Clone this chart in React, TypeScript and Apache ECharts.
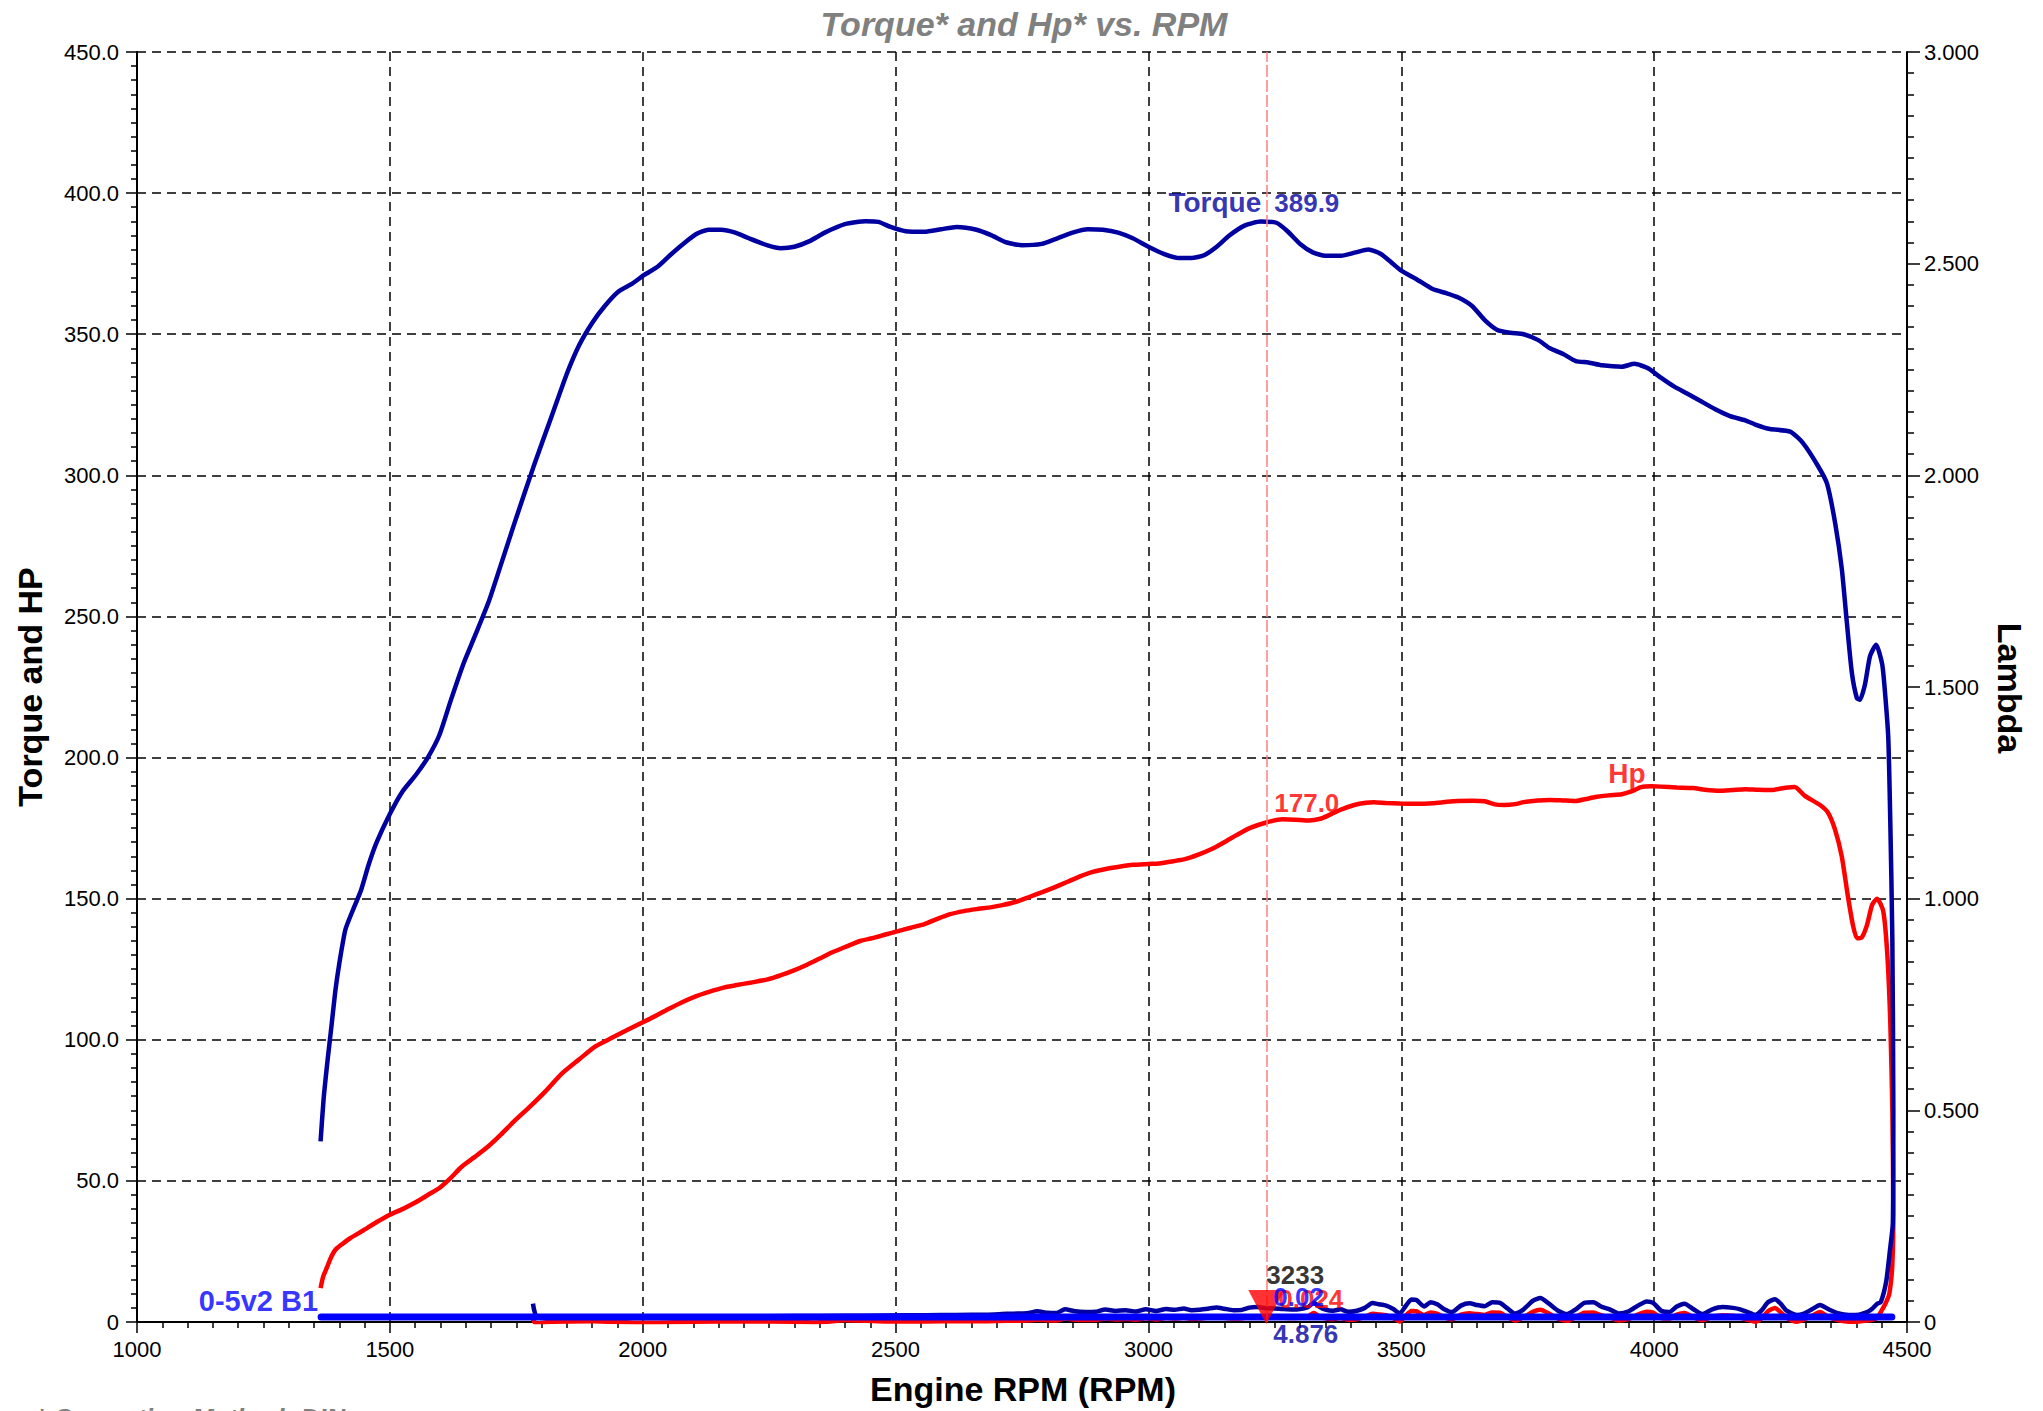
import React, { useEffect, useRef } from 'react';
import * as echarts from 'echarts';

// ---------- DATA ----------
const TITLE = 'Torque* and Hp* vs. RPM';
const FOOTNOTE = '* Correction Method: DIN';
const X_NAME = 'Engine RPM (RPM)';
const Y_LEFT_NAME = 'Torque and HP';
const Y_RIGHT_NAME = 'Lambda';
const LAMBDA_NAME = '0-5v2 B1';

// torque (pull) [rpm, value]
const torqueRun: number[][] = [
  [1363, 64], [1369, 79], [1377, 93], [1384, 104], [1392, 117], [1400, 127], [1412, 139], [1427, 146],
  [1443, 153], [1458, 162], [1474, 170], [1500, 180], [1525, 188], [1552, 194], [1575, 200], [1598, 208],
  [1620, 220], [1645, 233], [1668, 243], [1695, 255], [1719, 268], [1750, 285], [1784, 303], [1822, 322],
  [1850, 336], [1874, 346], [1900, 354], [1925, 360], [1951, 365], [1980, 368], [2003, 371], [2030, 374],
  [2054, 378], [2080, 382], [2106, 385.5], [2130, 387], [2155, 387], [2183, 386], [2210, 384], [2247, 381.5],
  [2273, 380.5], [2300, 381], [2330, 383], [2360, 386], [2400, 389], [2441, 390], [2466, 389.8], [2490, 388],
  [2520, 386.5], [2557, 386.3], [2590, 387.2], [2621, 388], [2660, 387], [2690, 385], [2720, 382.5], [2750, 381.5],
  [2789, 382], [2820, 384], [2850, 386], [2880, 387.2], [2910, 387], [2940, 386], [2969, 384], [3000, 381],
  [3030, 378.5], [3060, 377], [3085, 377], [3110, 378], [3135, 381], [3160, 385], [3190, 388.5], [3222, 389.9],
  [3253, 389.5], [3275, 386.5], [3300, 382], [3325, 379], [3350, 377.8], [3381, 377.8], [3410, 379], [3435, 380],
  [3459, 378.5], [3480, 375.5], [3500, 372.5], [3530, 369.5], [3562, 366], [3590, 364.5], [3613, 363], [3640, 360],
  [3665, 355], [3690, 351.5], [3716, 350.5], [3742, 350], [3770, 348], [3794, 345], [3820, 343], [3845, 340.5],
  [3870, 340], [3897, 339], [3936, 338.5], [3961, 339.5], [3987, 338], [4014, 334.5], [4039, 331.5], [4065, 329],
  [4090, 326.5], [4120, 323.5], [4150, 321], [4180, 319.5], [4200, 318], [4229, 316.4], [4269, 315.5], [4294, 311.5],
  [4324, 303.3], [4342, 297], [4358, 283], [4371, 267], [4381, 248], [4391, 230], [4401, 221], [4407, 220.5],
  [4417, 226], [4427, 236], [4439, 240], [4451, 233], [4457, 222], [4463, 207], [4467, 177], [4471, 136], [4473, 75]
];
// torque (coast down) [rpm, value]
const torqueDecel: number[][] = [
  [4472, 35], [4466, 25], [4459, 14.5], [4448, 7], [4441, 6.5], [4430, 4.5], [4421, 3.5], [4405, 2.6], [4385, 2.5],
  [4365, 3], [4345, 4.5], [4328, 6], [4312, 4.5], [4296, 3], [4282, 2.5], [4262, 4], [4250, 6.5], [4239, 8.1],
  [4225, 7], [4212, 4], [4200, 2.5], [4185, 3.5], [4170, 4.5], [4156, 5], [4135, 5.3], [4115, 4.5], [4095, 2.8],
  [4078, 4.5], [4060, 6.5], [4045, 5.5], [4030, 3.5], [4014, 4], [3998, 6.8], [3985, 7.3], [3968, 5.8], [3950, 3.8],
  [3930, 3], [3912, 4.5], [3895, 5.5], [3880, 7], [3862, 6.8], [3845, 4.5], [3828, 2.8], [3810, 4], [3792, 6.5],
  [3775, 8.5], [3760, 7.5], [3742, 4.5], [3725, 3], [3710, 4.8], [3695, 6.8], [3680, 7], [3665, 5.6], [3650, 6],
  [3635, 6.6], [3618, 5.8], [3600, 3.5], [3585, 4.5], [3572, 6.2], [3558, 7], [3545, 5.5], [3530, 7.8], [3520, 8],
  [3508, 5.5], [3497, 3], [3485, 4.5], [3470, 5.8], [3455, 6.3], [3443, 6.7], [3428, 5], [3412, 4], [3395, 3.6],
  [3380, 4.5], [3365, 4], [3350, 4.4], [3338, 5.4], [3327, 6.8], [3315, 5.2], [3300, 4.6], [3285, 4.4], [3265, 4.6],
  [3250, 4.8], [3233, 4.9], [3215, 5.3], [3200, 5.1], [3185, 4.3], [3168, 4.2], [3150, 4.7], [3135, 5.1], [3120, 4.8],
  [3100, 4.3], [3085, 4.2], [3070, 4.8], [3052, 4.3], [3035, 4.6], [3015, 3.9], [2995, 4.5], [2975, 3.7], [2955, 4.2],
  [2935, 3.9], [2915, 4.4], [2895, 3.6], [2875, 3.5], [2855, 3.8], [2835, 4.5], [2818, 3.2], [2800, 3.3], [2780, 3.8],
  [2760, 3.1], [2720, 2.9], [2680, 2.6], [2620, 2.5], [2560, 2.4], [2480, 2.3], [2400, 2.2], [2300, 2.1], [2200, 2.0],
  [2100, 1.9], [2000, 1.9], [1900, 1.8], [1820, 1.8], [1790, 2.0], [1785, 4.5], [1783, 6.5]
];
// hp (pull)
const hpRun: number[][] = [
  [1363, 12], [1368, 16], [1376, 19.5], [1384, 23], [1392, 25.5], [1405, 27.5], [1420, 29.5], [1448, 32.5],
  [1475, 35.5], [1500, 38], [1525, 40], [1552, 42.5], [1575, 45], [1598, 47.5], [1620, 51], [1642, 55],
  [1668, 58.5], [1693, 62], [1720, 66.5], [1745, 71], [1778, 76.5], [1809, 82], [1840, 88], [1874, 93],
  [1905, 97.5], [1938, 100.6], [1975, 104], [2015, 107.5], [2050, 110.8], [2080, 113.5], [2106, 115.5], [2131, 117],
  [2160, 118.5], [2183, 119.3], [2215, 120.3], [2247, 121.4], [2275, 123], [2299, 124.6], [2325, 126.6], [2350, 128.8],
  [2375, 131], [2402, 133], [2430, 135], [2454, 136], [2480, 137.3], [2505, 138.5], [2530, 139.7], [2557, 141],
  [2585, 143], [2608, 144.5], [2635, 145.6], [2660, 146.3], [2690, 147], [2711, 147.7], [2740, 149], [2763, 150.5],
  [2790, 152.3], [2814, 154], [2840, 156], [2866, 158], [2890, 159.5], [2918, 160.6], [2945, 161.4], [2969, 162],
  [3000, 162.3], [3021, 162.5], [3050, 163.3], [3072, 164], [3100, 165.7], [3124, 167.5], [3150, 170], [3175, 172.6],
  [3200, 175], [3233, 177.0], [3265, 178.1], [3290, 178], [3317, 177.7], [3340, 178.3], [3356, 179.5], [3380, 181.5],
  [3407, 183.2], [3430, 184], [3446, 184.2], [3470, 183.9], [3497, 183.7], [3530, 183.6], [3562, 183.8], [3590, 184.3],
  [3613, 184.6], [3640, 184.7], [3665, 184.5], [3685, 183.4], [3704, 183.2], [3725, 183.5], [3742, 184.2], [3770, 184.8],
  [3794, 185], [3820, 184.8], [3845, 184.6], [3865, 185.3], [3884, 186], [3910, 186.6], [3936, 187], [3955, 188],
  [3974, 189.5], [3995, 189.8], [4013, 189.7], [4045, 189.4], [4077, 189.2], [4100, 188.6], [4129, 188.2], [4155, 188.5],
  [4180, 188.8], [4205, 188.6], [4232, 188.5], [4260, 189.3], [4278, 189.6], [4298, 186.4], [4328, 183.2], [4344, 180.4],
  [4358, 174.3], [4371, 165], [4383, 151], [4393, 140.7], [4401, 136], [4411, 136.4], [4421, 140.7], [4431, 147.8],
  [4441, 150], [4453, 145.6], [4461, 130.4], [4467, 106], [4471, 75.5], [4473, 39]
];
// hp (coast down)
const hpDecel: number[][] = [
  [4471, 20.5], [4465, 10], [4457, 6.4], [4448, 3.5], [4441, 1.4], [4430, 0.8], [4421, 0.5], [4405, 0.2], [4385, 0.1],
  [4365, 0.6], [4345, 1.8], [4328, 3.5], [4312, 2.2], [4296, 0.8], [4282, 0.1], [4262, 1.5], [4250, 3.5], [4239, 5],
  [4225, 3.8], [4212, 1.2], [4200, 0.1], [4185, 0.8], [4170, 1.6], [4156, 2.2], [4135, 2.4], [4115, 1.8], [4095, 0.6],
  [4078, 1.6], [4060, 3.2], [4045, 2.6], [4030, 1.2], [4014, 1.4], [3998, 3.3], [3985, 3.6], [3968, 2.6], [3950, 1.1],
  [3930, 0.5], [3912, 1.6], [3895, 2.4], [3880, 3.4], [3862, 3.3], [3845, 1.8], [3828, 0.4], [3810, 1.2], [3792, 3.0],
  [3775, 4.3], [3760, 3.6], [3742, 1.7], [3725, 0.5], [3710, 1.8], [3695, 3.3], [3680, 3.4], [3665, 2.5], [3650, 2.8],
  [3635, 3.1], [3618, 2.6], [3600, 0.9], [3585, 1.6], [3572, 2.9], [3558, 3.4], [3545, 2.4], [3530, 3.8], [3520, 3.9],
  [3508, 2.1], [3497, 0.2], [3485, 1.3], [3470, 2.4], [3455, 2.7], [3443, 2.9], [3428, 1.8], [3412, 1.0], [3395, 0.8],
  [3380, 1.4], [3365, 1.0], [3350, 1.3], [3338, 2.0], [3327, 3.2], [3315, 2.0], [3300, 1.6], [3285, 1.4], [3265, 1.5],
  [3250, 1.6], [3233, 1.7], [3215, 1.9], [3200, 1.8], [3185, 1.3], [3168, 1.2], [3150, 1.5], [3135, 1.8], [3120, 1.6],
  [3100, 1.2], [3085, 1.1], [3070, 1.5], [3052, 1.2], [3035, 1.4], [3015, 0.9], [2995, 1.3], [2975, 0.8], [2955, 1.1],
  [2935, 0.9], [2915, 1.2], [2895, 0.7], [2875, 0.7], [2855, 0.8], [2835, 1.2], [2818, 0.5], [2800, 0.6], [2780, 0.8],
  [2760, 0.5], [2720, 0.4], [2680, 0.3], [2620, 0.3], [2560, 0.2], [2480, 0.2], [2400, 0.6], [2340, -0.2], [2300, 0.1],
  [2200, 0.2], [2100, 0.1], [2000, -0.3], [1900, 0.3], [1820, 0.1], [1790, -0.5], [1785, 0.2], [1783, 1.0]
];
// lambda channel "0-5v2 B1" (right axis)
const lambdaLine: number[][] = [[1364, 0.012], [4470, 0.012]];

// cursor readout
const cursorRpm = 3233;
const cursorTorque = 389.9;
const cursorHp = 177.0;
const cursorLambdaText = '0.02';
const cursorHpDecelText = '0.024';
const cursorTorqueDecel = 4.876;
const hpPeak = [4005, 189.8];

// axes
const X_MIN = 1000, X_MAX = 4500, X_STEP = 500;
const YL_MIN = 0, YL_MAX = 450, YL_STEP = 50;
const YR_MIN = 0, YR_MAX = 3, YR_STEP = 0.5;

const NAVY = '#0000A0';
const RED = '#FF0000';
const BLUE = '#0000FF';
const FONT = "'Liberation Sans', Arial, Helvetica, sans-serif";

export default function App() {
  const ref = useRef<HTMLDivElement>(null);
  useEffect(() => {
    document.body.style.margin = '0';
    document.body.style.overflow = 'hidden';
    const chart = echarts.init(ref.current!, null, { renderer: 'svg' });
    const tick = { show: true, inside: false, length: 11, lineStyle: { color: '#000', width: 1.5 } };
    const minor = { show: true, splitNumber: 10, length: 6, lineStyle: { color: '#000', width: 1.5 } };
    const dashed = { show: true, lineStyle: { color: '#000', width: 1.5, type: [9, 6] as any } };
    const lbl = (extra: any) => ({
      show: true, fontFamily: FONT, fontWeight: 'bold', fontSize: 26, verticalAlign: 'middle', ...extra
    });
    const option: any = {
      animation: false,
      backgroundColor: '#fff',
      textStyle: { fontFamily: FONT },
      grid: { left: 137, top: 52, width: 1770, height: 1270, containLabel: false, outerBoundsMode: 'none' },
      xAxis: {
        type: 'value', min: X_MIN, max: X_MAX, interval: X_STEP,
        axisLine: { show: true, onZero: false, lineStyle: { color: '#000', width: 2 } },
        axisTick: tick, minorTick: minor, splitLine: dashed, minorSplitLine: { show: false },
        axisLabel: { fontSize: 22, color: '#000', margin: 16, fontFamily: FONT, formatter: (v: number) => String(v) }
      },
      yAxis: [
        {
          type: 'value', position: 'left', min: YL_MIN, max: YL_MAX, interval: YL_STEP,
          axisLine: { show: true, lineStyle: { color: '#000', width: 2 } },
          axisTick: tick, minorTick: minor, splitLine: dashed,
          axisLabel: { fontSize: 22, color: '#000', margin: 18, fontFamily: FONT,
            formatter: (v: number) => (v === 0 ? '0' : v.toFixed(1)) }
        },
        {
          type: 'value', position: 'right', min: YR_MIN, max: YR_MAX, interval: YR_STEP,
          axisLine: { show: true, lineStyle: { color: '#000', width: 2 } },
          axisTick: { ...tick, length: 13 }, minorTick: { ...minor, length: 7 }, splitLine: { show: false },
          axisLabel: { fontSize: 22, color: '#000', margin: 17, fontFamily: FONT,
            formatter: (v: number) => (v === 0 ? '0' : v.toFixed(3)) }
        }
      ],
      graphic: [
        { type: 'text', x: 1024, y: 24, silent: true,
          style: { text: TITLE, fill: '#808080', font: `italic bold 34px ${FONT}`, align: 'center', verticalAlign: 'middle' } },
        { type: 'text', x: 30, y: 687, rotation: Math.PI / 2, silent: true,
          style: { text: Y_LEFT_NAME, fill: '#000', font: `bold 34px ${FONT}`, align: 'center', verticalAlign: 'middle' } },
        { type: 'text', x: 2010, y: 688, rotation: -Math.PI / 2, silent: true,
          style: { text: Y_RIGHT_NAME, fill: '#000', font: `bold 34px ${FONT}`, align: 'center', verticalAlign: 'middle' } },
        { type: 'text', x: 1023, y: 1389, silent: true,
          style: { text: X_NAME, fill: '#000', font: `bold 34px ${FONT}`, align: 'center', verticalAlign: 'middle' } },
        { type: 'text', x: 36, y: 1418, silent: true,
          style: { text: FOOTNOTE, fill: '#808080', font: `italic bold 26px ${FONT}`, align: 'left', verticalAlign: 'middle' } }
      ],
      series: [
        {
          type: 'line', name: 'Hp', data: [...hpRun, ...hpDecel], yAxisIndex: 0,
          showSymbol: false, smooth: 0.2, silent: true, z: 2,
          lineStyle: { color: RED, width: 4.5 }, itemStyle: { color: RED }
        },
        {
          type: 'line', name: 'Torque', data: [...torqueRun, ...torqueDecel], yAxisIndex: 0,
          showSymbol: false, smooth: 0.2, silent: true, z: 3,
          lineStyle: { color: NAVY, width: 4.5 }, itemStyle: { color: NAVY },
          markLine: {
            silent: true, symbol: ['none', 'none'], label: { show: false },
            lineStyle: { color: '#FF7F7F', width: 1.5, type: [12, 3] },
            data: [{ xAxis: cursorRpm }]
          }
        },
        {
          type: 'line', name: LAMBDA_NAME, data: lambdaLine, yAxisIndex: 1,
          showSymbol: false, silent: true, z: 4,
          lineStyle: { color: BLUE, width: 7, cap: 'round' }, itemStyle: { color: BLUE }
        },
        {
          type: 'scatter', yAxisIndex: 0, silent: true, z: 6, clip: false,
          data: [[cursorRpm, 0]], symbol: 'triangle', symbolRotate: 180, symbolSize: [36, 34],
          symbolOffset: [0, -15], itemStyle: { color: RED }
        },
        {
          type: 'scatter', yAxisIndex: 0, silent: true, z: 7, clip: false, symbolSize: 0,
          data: [
            { value: [cursorRpm, cursorTorque], label: lbl({ formatter: 'Torque', position: [-5, -19], align: 'right', color: NAVY, fontSize: 28 }) },
            { value: [cursorRpm, cursorTorque], label: lbl({ formatter: cursorTorque.toFixed(1), position: [8, -19], align: 'left', color: NAVY }) },
            { value: [cursorRpm, cursorHp], label: lbl({ formatter: cursorHp.toFixed(1), position: [8, -19], align: 'left', color: RED }) },
            { value: hpPeak, label: lbl({ formatter: 'Hp', position: [-11, -13], align: 'right', color: RED, fontSize: 28 }) },
            { value: [cursorRpm, 0], label: lbl({ formatter: String(cursorRpm), position: [0, -47], align: 'left', color: '#000' }) },
            { value: [cursorRpm, 0], label: lbl({ formatter: cursorHpDecelText, position: [12, -23], align: 'left', color: RED }) },
            { value: [cursorRpm, 0], label: lbl({ formatter: cursorTorqueDecel.toFixed(3), position: [7, 12], align: 'left', color: NAVY }) }
          ]
        },
        {
          type: 'scatter', yAxisIndex: 0, silent: true, z: 8, clip: false, symbolSize: 0,
          data: [
            { value: [cursorRpm, 0], label: lbl({ formatter: cursorLambdaText, position: [7, -25], align: 'left', color: BLUE }) }
          ]
        },
        {
          type: 'scatter', yAxisIndex: 1, silent: true, z: 8, clip: false, symbolSize: 0,
          data: [
            { value: lambdaLine[0], label: lbl({ formatter: LAMBDA_NAME, position: [-3, -16], align: 'right', color: BLUE, fontSize: 29 }) }
          ]
        }
      ]
    };
    chart.setOption(option);
    return () => chart.dispose();
  }, []);
  return <div ref={ref} style={{ width: 2043, height: 1411 }} />;
}
